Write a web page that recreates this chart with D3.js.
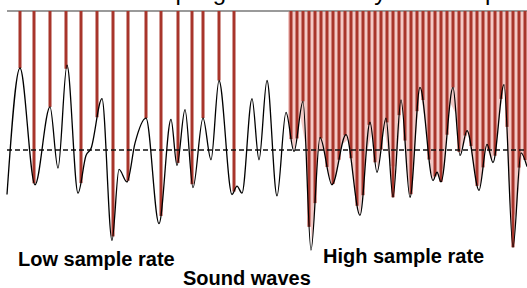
<!DOCTYPE html>
<html><head><meta charset="utf-8">
<script src="https://cdnjs.cloudflare.com/ajax/libs/d3/7.8.5/d3.min.js"></script>
<style>html,body{margin:0;padding:0;background:#fff;overflow:hidden}</style>
</head><body>
<script>
// Sound wave (time in ms-like units, amplitude in % of full scale)
const waveTime = [0,13,28,43,51,60,71,79,84,95,105,112,120,128,139,152,164,170,178,186,196,204,212,225,230,235,245,252,260,270,279,287,296,304,313,325,339,353,363,370,379,386,394,403,413,426,430,434,446,453,460,472,480,486,497,506,514,520];
const waveAmp  = [-32,59,-25,31,-13,61,-31,-4,1,37,-65,-14,-23,5,23,-53,22,-11,29,-27,23,-7,50,-32,-26,-31,37,-7,50,-33,27,-1,35,-72,9,-25,11,-47,20,-16,23,-34,36,-34,45,-22,-16,-23,45,-4,14,-29,4,-9,47,-70,-2,-12];
// Sampling instants
const lowRateTimes  = [13,27,43,59,74,90,106,121,139,154,171,185,196,212,227];
const highRateTimes = [284,290,296,302,308,314,320,326,332,338,344,350,356,362,368,374,380,386,392,398,404,410,416,422,428,434,440,446,452,458,464,470,476,482,488,494,500,506,512,518];
const labels = ["Low sample rate","Sound waves","High sample rate"];
const titleText = "Audio sampling and its density of a sample";

const W = 527, H = 288;
const svg = d3.select("body").append("svg").attr("width",W).attr("height",H);
const x = d3.scaleLinear().domain([0,520]).range([7,527]);
const y = d3.scaleLinear().domain([-100,100]).range([289,11]);

const pts = waveTime.map((t,i)=>[t,waveAmp[i]]);
const line = d3.line().x(d=>x(d[0])).y(d=>y(d[1])).curve(d3.curveMonotoneX);

// hidden path to sample wave at sample instants
const probe = svg.append("path").attr("d", line(pts)).attr("fill","none").attr("stroke","none");
const node = probe.node(), total = node.getTotalLength();
function waveYAt(px){
  let lo=0, hi=total;
  for(let k=0;k<40;k++){const m=(lo+hi)/2; if(node.getPointAtLength(m).x<px) lo=m; else hi=m;}
  return node.getPointAtLength((lo+hi)/2).y;
}

// pink fill in high-rate region
const hiStart = x(highRateTimes[0]) - 3;
const fillPts = [];
for (const t of highRateTimes) { const px = x(t); fillPts.push([px-3, waveYAt(Math.max(px-3,hiStart))], [px+3, waveYAt(Math.min(px+3,W))]); }
svg.append("path")
  .attr("d", d3.area().x(d=>d[0]).y0(y(100)).y1(d=>d[1])(fillPts))
  .attr("fill","#f3c9c6");

// top reference line
svg.append("line").attr("x1",x(0)).attr("x2",W).attr("y1",y(100)).attr("y2",y(100))
  .attr("stroke","#9a9a9a").attr("stroke-width",2);

// sample bars
function bars(times, cls){
  svg.selectAll("rect."+cls).data(times).join("rect").attr("class",cls)
    .attr("x",t=>x(t)-1.5).attr("width",3)
    .attr("y",y(100)).attr("height",t=>Math.max(0, waveYAt(x(t))-y(100)))
    .attr("fill","#a8352b");
}
bars(lowRateTimes,"lo");
bars(highRateTimes,"hi");

// zero line
svg.append("line").attr("x1",x(0)).attr("x2",W).attr("y1",y(0)).attr("y2",y(0))
  .attr("stroke","#111").attr("stroke-width",1.5).attr("stroke-dasharray","5,3");

// wave
svg.append("path").attr("d", line(pts)).attr("fill","none").attr("stroke","#000").attr("stroke-width",1.3);

// labels
const f = "'Liberation Sans', Arial, sans-serif";
svg.append("text").attr("x",62).attr("y",0).text(titleText)
  .attr("font-family",f).attr("font-size",24).attr("fill","#000");
const lab = [[18,266],[183,285],[323,263]];
labels.forEach((s,i)=>svg.append("text").attr("x",lab[i][0]).attr("y",lab[i][1]).text(s)
  .attr("font-family",f).attr("font-weight","bold").attr("font-size",20).attr("fill","#000"));
</script>
</body></html>
